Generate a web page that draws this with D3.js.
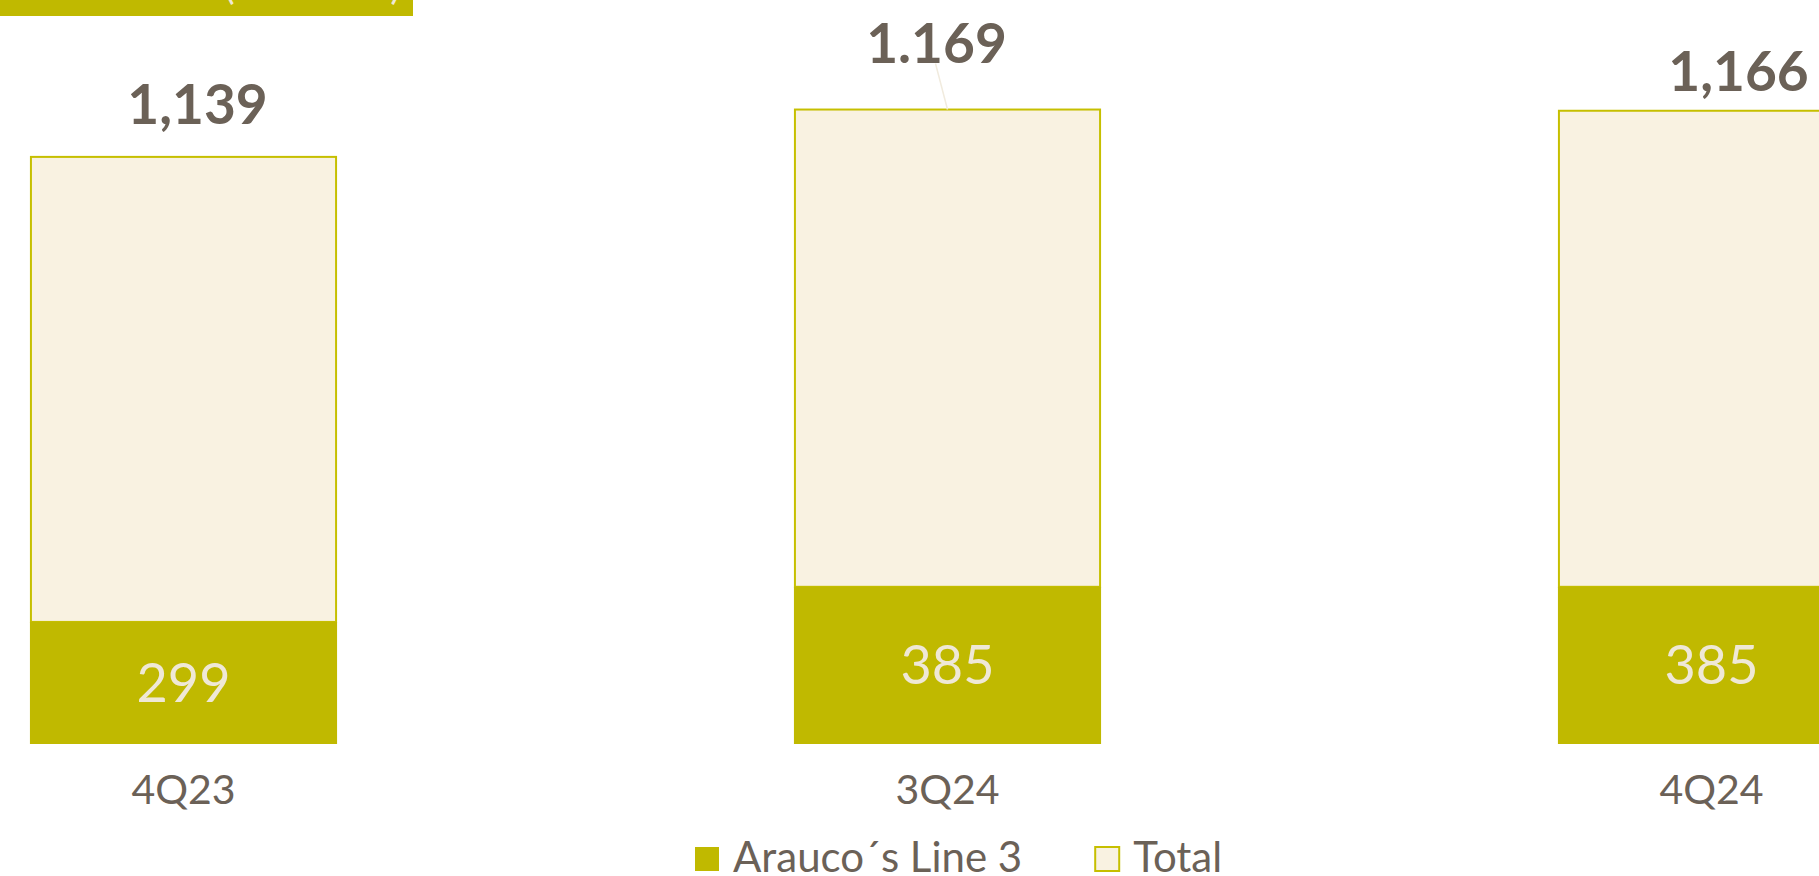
<!DOCTYPE html>
<html>
<head>
<meta charset="utf-8">
<script src="https://cdn.jsdelivr.net/npm/d3@7"></script>
<style>
  html, body { margin: 0; padding: 0; background: #ffffff; overflow: hidden; }
  svg { display: block; font-family: Lato, "Open Sans", "Noto Sans", sans-serif; }
</style>
</head>
<body>
<svg id="chart" width="1819" height="876"></svg>
<script>
// Quarterly volumes, stacked: Line 3 at the bottom, total on top
const quarters = ["4Q23", "3Q24", "4Q24"];
const line3Values = [299, 385, 385];
const totalValues = [1139, 1169, 1166];
const totalLabels = ["1,139", "1.169", "1,166"];
const seriesNames = ["Arauco\u00b4s Line 3", "Total"];

const OLIVE = "#c0b900";
const OLIVE_EDGE = "#c6bf00";
const CREAM = "#f9f2e1";
const INK = "#6b6157";
const LIGHT_TEXT = "#efe8d6";

const svg = d3.select("#chart");

// Header band across the top-left, its caption mostly above the frame
svg.append("rect")
  .attr("x", 0).attr("y", 0)
  .attr("width", 413).attr("height", 16)
  .attr("fill", OLIVE);
svg.append("text")
  .attr("x", 401).attr("y", -1)
  .attr("text-anchor", "end")
  .attr("font-size", 40)
  .attr("fill", LIGHT_TEXT)
  .text("Production (000 tons)");

const rows = quarters.map((q, i) => ({
  q, line3: line3Values[i], total: totalValues[i], label: totalLabels[i]
}));

const x = d3.scaleBand()
  .domain(quarters)
  .range([-198.5, 2093.5])
  .paddingInner(0.598)
  .paddingOuter(0.299);

const y = d3.scaleLinear()
  .domain([0, 1800])
  .range([744, 9.1]);

// Total segment sits on top of Line 3
svg.append("g").selectAll("rect")
  .data(rows).join("rect")
  .attr("x", d => x(d.q) + 1)
  .attr("width", x.bandwidth() - 2)
  .attr("y", d => y(d.line3 + d.total))
  .attr("height", d => y(d.line3) - y(d.line3 + d.total))
  .attr("fill", CREAM)
  .attr("stroke", OLIVE_EDGE)
  .attr("stroke-width", 2);

svg.append("g").selectAll("rect")
  .data(rows).join("rect")
  .attr("x", d => x(d.q))
  .attr("width", x.bandwidth())
  .attr("y", d => y(d.line3))
  .attr("height", d => y(0) - y(d.line3))
  .attr("fill", OLIVE);

// Line 3 values inside the olive segment
svg.append("g").selectAll("text")
  .data(rows).join("text")
  .attr("x", d => x(d.q) + x.bandwidth() / 2)
  .attr("y", d => (y(0) + y(d.line3)) / 2)
  .attr("dy", "0.35em")
  .attr("text-anchor", "middle")
  .attr("font-size", 54)
  .attr("fill", LIGHT_TEXT)
  .text(d => d3.format(",")(d.line3));

// Total labels above the stacks, each nudged from the bar top
const labelNudge = [[14, -33], [-11, -47], [27, -20]];
const labelGroup = svg.append("g");
rows.forEach((d, i) => {
  const cx = x(d.q) + x.bandwidth() / 2;
  const top = y(d.line3 + d.total);
  const lx = cx + labelNudge[i][0];
  const ly = top + labelNudge[i][1];
  if (labelNudge[i][1] < -40) {
    labelGroup.append("line")
      .attr("x1", lx - 1).attr("y1", ly + 1)
      .attr("x2", cx).attr("y2", top)
      .attr("stroke", "#f1ebde")
      .attr("stroke-width", 1.5);
  }
  labelGroup.append("text")
    .attr("x", lx)
    .attr("y", ly)
    .attr("text-anchor", "middle")
    .attr("font-size", 55)
    .attr("font-weight", "bold")
    .attr("fill", INK)
    .text(d.label);
});

// Category axis labels
const xAxis = svg.append("g")
  .attr("transform", `translate(0, ${y(0)})`)
  .call(d3.axisBottom(x).tickSize(0).tickPadding(0));
xAxis.select(".domain").remove();
xAxis.selectAll("text")
  .attr("dy", null)
  .attr("y", 60)
  .attr("font-size", 41)
  .attr("font-family", "Lato, 'Open Sans', sans-serif")
  .attr("fill", INK);

// Legend
const legend = svg.append("g");
const legendStyles = [
  { fill: OLIVE, stroke: "none" },
  { fill: CREAM, stroke: OLIVE_EDGE }
];
let lx = 694;
seriesNames.forEach((name, i) => {
  const item = legend.append("g").attr("transform", `translate(${lx}, 0)`);
  item.append("rect")
    .attr("x", 1).attr("y", 847)
    .attr("width", 24).attr("height", 24)
    .attr("fill", legendStyles[i].fill)
    .attr("stroke", legendStyles[i].stroke)
    .attr("stroke-width", 2);
  const t = item.append("text")
    .attr("x", 39).attr("y", 872)
    .attr("font-size", 42)
    .attr("fill", INK)
    .text(name);
  lx += 39 + t.node().getComputedTextLength() + 72;
});
</script>
</body>
</html>
